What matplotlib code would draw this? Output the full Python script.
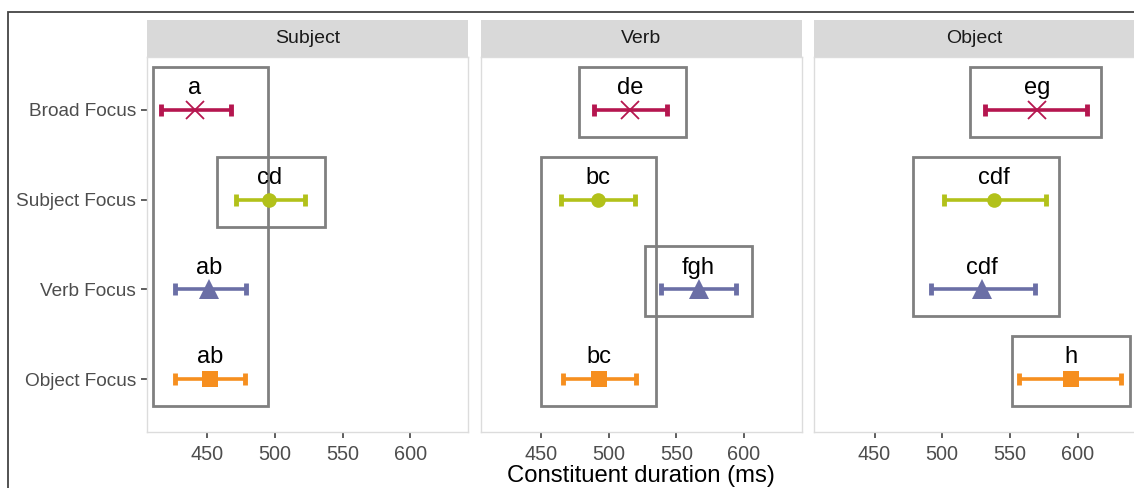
import numpy as np
import matplotlib.pyplot as plt
from matplotlib.patches import Rectangle

plt.rcParams['font.family'] = ['Liberation Sans', 'DejaVu Sans']

# constituent panels and focus conditions
panels = ['Subject', 'Verb', 'Object']
conditions = ['Broad Focus', 'Subject Focus', 'Verb Focus', 'Object Focus']
colors = ['#b5164f', '#b2c11a', '#6b6fa6', '#f68f1f']
markers = ['x', 'o', '^', 's']
msizes = [13, 10.5, 14, 11]

# mean durations (ms) and interval bounds, one row per panel
means = {
    'Subject': [441, 496, 451.5, 452],
    'Verb':    [516, 492, 566.5, 493],
    'Object':  [570, 538, 529.5, 595],
}
lower = {
    'Subject': [416, 471, 426, 426.5],
    'Verb':    [489, 465, 539, 466],
    'Object':  [532, 501, 492, 557],
}
upper = {
    'Subject': [467.5, 522, 478.5, 478],
    'Verb':    [543.5, 519.5, 594, 520.5],
    'Object':  [607, 576.5, 568.5, 632.5],
}
letters = {
    'Subject': ['a', 'cd', 'ab', 'ab'],
    'Verb':    ['de', 'bc', 'fgh', 'bc'],
    'Object':  ['eg', 'cdf', 'cdf', 'h'],
}
# grouping boxes: (x from, x to, first row, last row)
groups = {
    'Subject': [(410, 495, 0, 3), (457.5, 537, 1, 1)],
    'Verb':    [(478.5, 557.5, 0, 0), (450, 535, 1, 3), (527, 606, 2, 2)],
    'Object':  [(520.5, 617.5, 0, 0), (478.5, 586.5, 1, 2), (551.5, 638.5, 3, 3)],
}

fig = plt.figure(figsize=(11.34, 4.88), dpi=100)

# outer frame
fig.patches.append(Rectangle((8 / 1134, -0.1), 1.2, 1.1 - 12 / 488,
                             transform=fig.transFigure, fill=False,
                             edgecolor='#444444', linewidth=1.3))

lefts = [147 / 1134, 480.7 / 1134, 814.3 / 1134]
w = 321 / 1134
bottom = 1 - 432 / 488
h = 375 / 488
strip_h = 37 / 488

for i, name in enumerate(panels):
    ax = fig.add_axes([lefts[i], bottom, w, h])
    ypos = np.arange(len(conditions))
    for j in range(len(conditions)):
        m = means[name][j]
        ax.errorbar(m, ypos[j],
                    xerr=[[m - lower[name][j]], [upper[name][j] - m]],
                    fmt='none', ecolor=colors[j], elinewidth=2.6,
                    capsize=4, capthick=3.5, zorder=3)
        if markers[j] == 'x':
            ax.plot(m, ypos[j], marker='x', color=colors[j],
                    markersize=msizes[j], markeredgewidth=1.3, zorder=4)
        else:
            ax.plot(m, ypos[j], marker=markers[j], color=colors[j],
                    markersize=msizes[j], markeredgewidth=0, zorder=4)
        ax.text(m, ypos[j] - 0.175, letters[name][j], ha='center',
                va='baseline', fontsize=17, color='black', zorder=5)
    for x0, x1, r0, r1 in groups[name]:
        ax.add_patch(Rectangle((x0, r0 - 0.48), x1 - x0, (r1 - r0) + 0.78,
                               fill=False, edgecolor='#808080',
                               linewidth=2, zorder=2))
    ax.set_xlim(405.5, 642.7)
    ax.set_ylim(3.59, -0.59)
    ax.set_xticks([450, 500, 550, 600])
    ax.set_yticks(ypos)
    if i == 0:
        ax.set_yticklabels(conditions)
    else:
        ax.tick_params(axis='y', left=False, labelleft=False)
    ax.tick_params(axis='x', labelsize=14.3, pad=5)
    ax.tick_params(axis='y', labelsize=13.7, pad=4)
    ax.tick_params(axis='both', labelcolor='#4d4d4d',
                   color='#333333', length=4, width=1.1)
    for s in ax.spines.values():
        s.set_color('#dcdcdc')
        s.set_linewidth(1)
    if i == 1:
        ax.set_xlabel('Constituent duration (ms)', fontsize=17.2,
                      color='black', labelpad=1)

    sax = fig.add_axes([lefts[i], bottom + h, w, strip_h])
    sax.set_facecolor('#d9d9d9')
    sax.set_xticks([])
    sax.set_yticks([])
    for s in sax.spines.values():
        s.set_visible(False)
    sax.text(0.5, 0.5, name, ha='center', va='center', fontsize=14,
             color='#1a1a1a', transform=sax.transAxes)

fig.savefig('out.png', dpi=100)
